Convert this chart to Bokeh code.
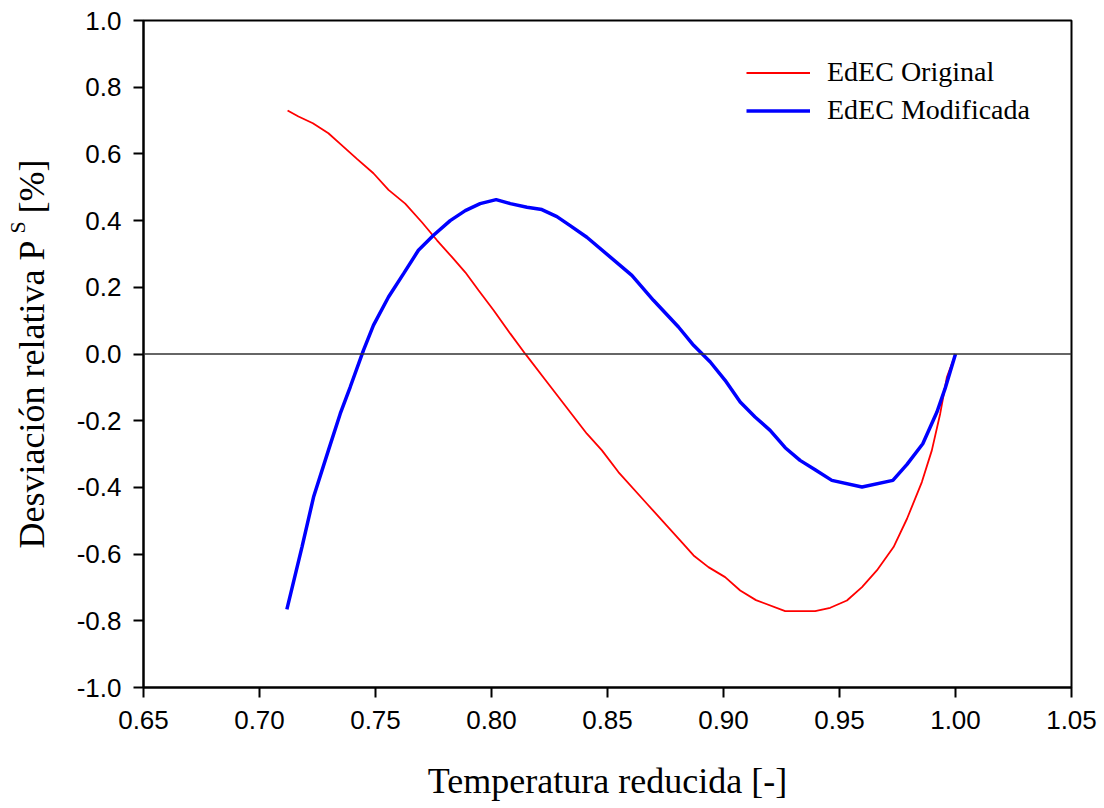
import numpy as np
from bokeh.plotting import figure
from bokeh.models import Range1d, FixedTicker, Span, Legend, LegendItem, LinearAxis
from bokeh.embed import file_html
from bokeh.resources import INLINE

# Reduced temperature / relative deviation (%) - original EoS
tr_original = [0.7121, 0.7168, 0.7230, 0.7297, 0.7348, 0.7420, 0.7491, 0.7556, 0.7628,
               0.7700, 0.7765, 0.7829, 0.7887, 0.7944, 0.8009, 0.8081, 0.8145, 0.8239,
               0.8411, 0.8476, 0.8547, 0.8670, 0.8813, 0.8871, 0.8935, 0.9007, 0.9072,
               0.9140, 0.9266, 0.9395, 0.9460, 0.9532, 0.9597, 0.9661, 0.9733, 0.9791,
               0.9855, 0.9898, 0.9934, 0.9963, 1.0000]
dev_original = [0.730, 0.712, 0.692, 0.662, 0.630, 0.585, 0.542, 0.492, 0.451,
                0.395, 0.341, 0.291, 0.245, 0.191, 0.131, 0.061, 0.001, -0.084,
                -0.239, -0.289, -0.354, -0.449, -0.559, -0.604, -0.639, -0.669, -0.709,
                -0.738, -0.771, -0.771, -0.761, -0.739, -0.699, -0.649, -0.579, -0.494,
                -0.384, -0.289, -0.179, -0.069, 0.000]

# Modified EoS
tr_modified = [0.7118, 0.7183, 0.7233, 0.7297, 0.7348, 0.7391, 0.7448, 0.7491, 0.7556,
               0.7621, 0.7685, 0.7750, 0.7822, 0.7887, 0.7951, 0.8020, 0.8081, 0.8153,
               0.8217, 0.8282, 0.8339, 0.8411, 0.8605, 0.8698, 0.8806, 0.8871, 0.8943,
               0.9007, 0.9072, 0.9136, 0.9201, 0.9266, 0.9330, 0.9395, 0.9467, 0.9597,
               0.9730, 0.9791, 0.9859, 0.9920, 0.9955, 1.0000]
dev_modified = [-0.766, -0.579, -0.429, -0.289, -0.179, -0.099, 0.011, 0.086, 0.171,
                0.241, 0.311, 0.356, 0.400, 0.430, 0.451, 0.463, 0.451, 0.440,
                0.433, 0.412, 0.385, 0.350, 0.236, 0.161, 0.081, 0.026, -0.024,
                -0.079, -0.144, -0.189, -0.229, -0.281, -0.319, -0.347, -0.379, -0.399,
                -0.379, -0.331, -0.269, -0.174, -0.104, 0.000]

x_ticks = [0.65, 0.70, 0.75, 0.80, 0.85, 0.90, 0.95, 1.00, 1.05]
x_tick_labels = ["0.65", "0.70", "0.75", "0.80", "0.85", "0.90", "0.95", "1.00", "1.05"]
y_ticks = [-1.0, -0.8, -0.6, -0.4, -0.2, 0.0, 0.2, 0.4, 0.6, 0.8, 1.0]
y_tick_labels = ["-1.0", "-0.8", "-0.6", "-0.4", "-0.2", "0.0", "0.2", "0.4", "0.6", "0.8", "1.0"]

series_names = ["EdEC Original", "EdEC Modificada"]
x_title = "Temperatura reducida [-]"
y_title_main = "Desviación relativa P"
y_title_sup = "S"
y_title_end = "[%]"

NBSP = "\u00a0"

p = figure(width=1104, height=808, output_backend="svg", toolbar_location=None,
           x_range=Range1d(0.65, 1.05), y_range=Range1d(-1.0, 1.0),
           min_border_left=143, min_border_right=33, min_border_top=20, min_border_bottom=121,
           background_fill_color="white", border_fill_color="white")

p.grid.visible = False
p.outline_line_color = "black"
p.outline_line_width = 2

for ax in (p.xaxis[0], p.yaxis[0]):
    ax.axis_line_width = 2
    ax.axis_line_color = "black"
    ax.major_tick_line_width = 2
    ax.major_tick_line_color = "black"
    ax.major_tick_out = 10
    ax.major_tick_in = 0
    ax.minor_tick_out = 0
    ax.minor_tick_in = 0
    ax.major_label_text_font = "Liberation Sans"
    ax.major_label_text_font_size = "26px"
    ax.major_label_text_color = "black"

p.xaxis.major_label_standoff = 13
p.yaxis.major_label_standoff = 12

p.xaxis.ticker = FixedTicker(ticks=x_ticks)
p.xaxis.major_label_overrides = {t: l for t, l in zip(x_ticks, x_tick_labels)}
p.yaxis.ticker = FixedTicker(ticks=y_ticks)
p.yaxis.major_label_overrides = {t: l for t, l in zip(y_ticks, y_tick_labels)}

p.xaxis.axis_label = x_title
p.xaxis.axis_label_text_font = "Liberation Serif"
p.xaxis.axis_label_text_font_size = "36px"
p.xaxis.axis_label_text_font_style = "normal"
p.xaxis.axis_label_text_color = "black"
p.xaxis.axis_label_standoff = 29

# y title: main text with a gap left for the superscript
p.yaxis.axis_label = y_title_main + NBSP * 3 + y_title_end
p.yaxis.axis_label_text_font = "Liberation Serif"
p.yaxis.axis_label_text_font_size = "36px"
p.yaxis.axis_label_text_font_style = "normal"
p.yaxis.axis_label_text_color = "black"
p.yaxis.axis_label_standoff = 22

# superscript "S" carried by an extra, otherwise invisible, left axis
sup_axis = LinearAxis(ticker=FixedTicker(ticks=[]), axis_line_color=None,
                      major_tick_out=0, major_tick_in=0, minor_tick_out=0, minor_tick_in=0,
                      axis_label=NBSP * 46 + y_title_sup,
                      axis_label_text_font="Liberation Serif",
                      axis_label_text_font_size="22px",
                      axis_label_text_font_style="normal",
                      axis_label_text_color="black",
                      axis_label_standoff=-21)
p.add_layout(sup_axis, "left")

p.add_layout(Span(location=0, dimension="width", line_color="#333333", line_width=1.5))

r1 = p.line(tr_original, dev_original, line_color="#ff0000", line_width=1.8)
r2 = p.line(tr_modified, dev_modified, line_color="#0000ff", line_width=3.5)

legend = Legend(items=[LegendItem(label=series_names[0], renderers=[r1]),
                       LegendItem(label=series_names[1], renderers=[r2])],
                location=(603, 561), border_line_color=None, background_fill_alpha=0,
                label_text_font="Liberation Serif", label_text_font_size="28px",
                label_text_color="black",
                glyph_width=64, glyph_height=31, label_height=31, spacing=6,
                padding=0, margin=0, label_standoff=17)
p.add_layout(legend)

open("out.html", "w").write(file_html(p, INLINE))
